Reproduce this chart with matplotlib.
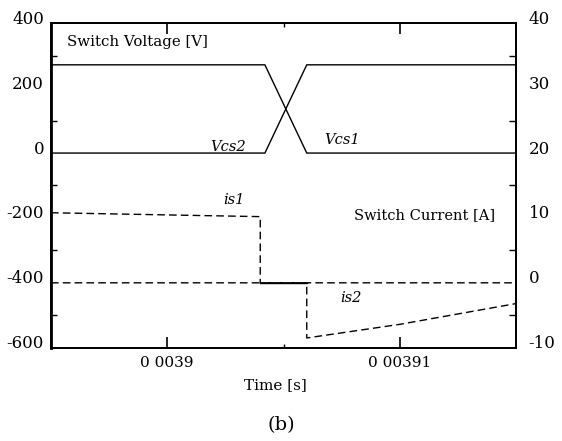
import matplotlib
matplotlib.use("Agg")
import matplotlib.pyplot as plt
import matplotlib.transforms as mtransforms
import numpy as np

# ---- data ----
t_volt = [0.003895, 0.0039042, 0.003906, 0.003915]
vcs2 = [272, 272, 0, 0]
vcs1 = [0, 0, 272, 272]

t_is1 = [0.003895, 0.003904, 0.003904, 0.003915]
is1 = [10.8, 10.2, 0.0, 0.0]

t_is2 = [0.003895, 0.003906, 0.003906, 0.00391, 0.003915]
is2 = [0.0, 0.0, -8.5, -6.4, -3.2]

x_ticks = [0.0039, 0.00391]
x_ticklabels = ["0 0039", "0 00391"]
v_ticks = [400, 200, 0, -200, -400, -600]
i_ticks = [40, 30, 20, 10, 0, -10]

plt.rcParams['font.family'] = ['DejaVu Serif']
plt.rcParams['axes.unicode_minus'] = False

W, H = 562, 441
fig = plt.figure(figsize=(W / 100, H / 100), dpi=100)
L, R, T, B = 51, 516, 23.3, 347.7
ax = fig.add_axes([L / W, 1 - B / H, (R - L) / W, (B - T) / H])
ax2 = ax.twinx()

ax.set_xlim(0.003895, 0.003915)
ax.set_ylim(-600, 400)
ax2.set_ylim(-10, 40)

# voltages
ax.plot(t_volt, vcs2, color='black', lw=1.0)
ax.plot(t_volt, vcs1, color='black', lw=1.0)

# currents
dash = (0, (5.5, 3))
ax2.plot(t_is1, is1, color='black', lw=1.0, linestyle=dash)
ax2.plot(t_is2, is2, color='black', lw=1.0, linestyle=dash)
# overlap of both zero-current intervals looks solid
t1_zero = t_is1[is1.index(0.0)]
t2_last_zero = max(t for t, v in zip(t_is2, is2) if v == 0.0)
ax2.plot([t1_zero, t2_last_zero], [0, 0], color='black', lw=1.0)

# ticks
ax.set_xticks(x_ticks)
ax.set_xticklabels(x_ticklabels)
ax.set_xticks([0.003905], minor=True)
ax.set_yticks(v_ticks)
ax.set_yticks(np.arange(-600, 401, 100), minor=True)
ax2.set_yticks(i_ticks)
ax2.set_yticks(np.arange(-10, 41, 5), minor=True)

ax.tick_params(axis='x', which='major', direction='in', length=8, width=1.2,
               top=True, labelsize=11, pad=6)
ax.tick_params(axis='x', which='minor', direction='in', length=3, width=1.0, top=True)
ax.tick_params(axis='y', which='both', direction='in', length=4, width=1.0,
               labelsize=12, pad=5)
ax.tick_params(axis='y', which='major', length=0)
ax2.tick_params(axis='y', which='both', direction='in', length=5, width=1.0,
                labelsize=12, pad=9)
ax2.tick_params(axis='y', which='major', length=0)

shift = mtransforms.ScaledTranslation(0, 6 / 100, fig.dpi_scale_trans)
for lab in ax.get_yticklabels():
    lab.set_transform(lab.get_transform() + shift)
for lab in ax2.get_yticklabels():
    lab.set_transform(lab.get_transform() + shift)

for a in (ax, ax2):
    for s in a.spines.values():
        s.set_linewidth(1.3)
ax.spines['left'].set_linewidth(2.0)

def fx(px):
    return (px - L) / (R - L)

def fy(py):
    return (B - py) / (B - T)

ax.text(fx(67), fy(42), "Switch Voltage [V]", transform=ax.transAxes,
        ha='left', va='center', fontsize=10.8)
ax.text(fx(228), fy(147), "Vcs2", transform=ax.transAxes, ha='center',
        va='center', fontsize=10.5, style='italic')
ax.text(fx(342), fy(140), "Vcs1", transform=ax.transAxes, ha='center',
        va='center', fontsize=10.5, style='italic')
ax.text(fx(234), fy(200), "is1", transform=ax.transAxes, ha='center',
        va='center', fontsize=10.5, style='italic')
ax.text(fx(351), fy(298), "is2", transform=ax.transAxes, ha='center',
        va='center', fontsize=10.5, style='italic')
ax.text(fx(495), fy(215), "Switch Current [A]", transform=ax.transAxes,
        ha='right', va='center', fontsize=10.5)

fig.text(275 / W, 1 - 385 / H, "Time [s]", ha='center', va='center', fontsize=11)
fig.text(281 / W, 1 - 425 / H, "(b)", ha='center', va='center', fontsize=14)

fig.savefig("out.png", dpi=100)
